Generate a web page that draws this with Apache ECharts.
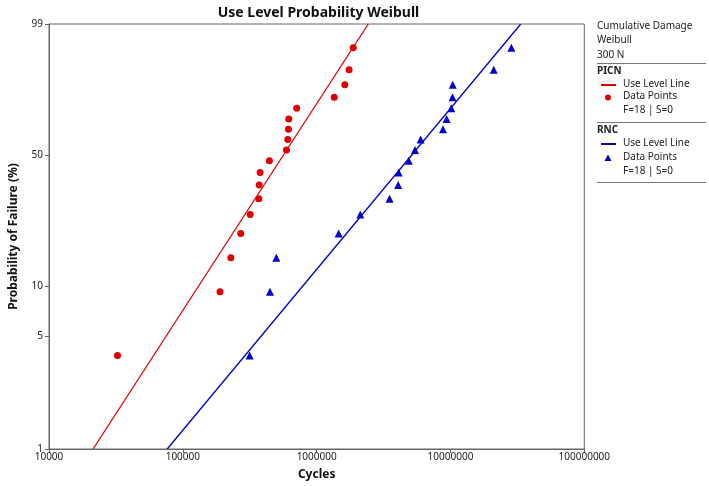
<!DOCTYPE html>
<html>
<head>
<meta charset="utf-8">
<script src="https://cdn.jsdelivr.net/npm/echarts@6/dist/echarts.min.js"></script>
<style>
  html, body { margin: 0; padding: 0; background: #fff; }
  #chart { width: 709px; height: 486px; }
</style>
</head>
<body>
<div id="chart"></div>
<script>
// median-rank probability (%) of each failure
const probPct = [3.8, 9.24, 14.67, 20.11, 25.54, 30.98, 36.41, 41.85, 47.28,
  52.72, 58.15, 63.59, 69.02, 74.46, 79.89, 85.33, 90.76, 96.2];

// cycles to failure
const picnCycles = [32500, 189600, 228500, 270900, 319000, 369800, 372000, 378000, 443600,
  595300, 608600, 615900, 619000, 709300, 1353000, 1624000, 1747000, 1876000];
const rncCycles = [315600, 448100, 499700, 1459000, 2120000, 3508000, 4068000, 4100000, 4879000,
  5431000, 5984000, 8789000, 9359000, 10136000, 10360000, 10400000, 21060000, 28500000];

// use level lines: cycles at 1% and 99%
const lineProb = [1, 99];
const picnLine = [21350, 2430000];
const rncLine = [76440, 33500000];

const yTicks = [1, 5, 10, 50, 99];

const FONT = "'Noto Sans', 'DejaVu Sans', sans-serif";
const RED = "#e00000";
const BLUE = "#0000cc";

// weibull probability scale
function wb(p) {
  return Math.log(-Math.log(1 - p / 100));
}
function unwb(t) {
  return (1 - Math.exp(-Math.exp(t))) * 100;
}

function pairs(xs, ps) {
  let out = [];
  for (let i = 0; i < xs.length; i++) {
    out.push([xs[i], wb(ps[i])]);
  }
  return out;
}

const myChart = echarts.init(document.getElementById("chart"));

// legend box on the right
const LX = 597;
const txt = (x, y, s, bold) => ({
  type: "text", left: x, top: y,
  style: { text: s, font: (bold ? "bold " : "") + "10px " + FONT, fill: "#222" },
});
const sep = (y) => ({
  type: "line", shape: { x1: LX, y1: y, x2: 706, y2: y },
  style: { stroke: "#777", lineWidth: 1 },
});
const keyLine = (y, c) => ({
  type: "line", shape: { x1: 601, y1: y, x2: 616, y2: y },
  style: { stroke: c, lineWidth: 2 },
});

const graphics = [
  txt(LX, 21, "Cumulative Damage"),
  txt(LX, 35, "Weibull"),
  txt(LX, 50, "300 N"),
  sep(63.5),
  txt(LX, 66, "PICN", true),
  keyLine(85, RED),
  txt(623, 79, "Use Level Line"),
  { type: "circle", shape: { cx: 608, cy: 97.5, r: 3 }, style: { fill: RED } },
  txt(623, 91, "Data Points"),
  txt(623, 105, "F=18 | S=0"),
  sep(122.5),
  txt(LX, 125, "RNC", true),
  keyLine(144, BLUE),
  txt(623, 138, "Use Level Line"),
  { type: "polygon", shape: { points: [[608, 154.5], [604.5, 161], [611.5, 161]] }, style: { fill: BLUE } },
  txt(623, 152, "Data Points"),
  txt(623, 166, "F=18 | S=0"),
  sep(182.5),
];

myChart.setOption({
  animation: false,
  title: {
    text: "Use Level Probability Weibull",
    left: 313.5,
    textAlign: "center",
    top: 1,
    textStyle: { fontFamily: FONT, fontSize: 14, fontWeight: "bold", color: "#111" },
  },
  grid: {
    left: 42.7,
    right: 124.7,
    top: 24,
    bottom: 34,
    show: true,
    borderColor: "#666",
    borderWidth: 1,
  },
  xAxis: {
    type: "log",
    logBase: 10,
    min: 10000,
    max: 100000000,
    name: "Cycles",
    nameLocation: "middle",
    nameGap: 20,
    nameTextStyle: { fontFamily: FONT, fontSize: 12, fontWeight: "bold", color: "#111" },
    axisLine: { onZero: false, lineStyle: { color: "#666" } },
    axisTick: { length: 4, lineStyle: { color: "#666" } },
    splitLine: { show: false },
    axisLabel: {
      margin: 3,
      fontFamily: FONT,
      fontSize: 10,
      color: "#222",
      formatter: (v) => String(Math.round(v)),
    },
  },
  yAxis: {
    type: "value",
    min: wb(1),
    max: wb(99),
    name: "Probability of Failure (%)",
    nameLocation: "middle",
    nameGap: 29,
    nameTextStyle: { fontFamily: FONT, fontSize: 12, fontWeight: "bold", color: "#111" },
    axisLine: { show: true, onZero: false, lineStyle: { color: "#666" } },
    axisTick: { show: true, length: 4, customValues: yTicks.map(wb), lineStyle: { color: "#666" } },
    splitLine: { show: false },
    axisLabel: {
      margin: 6,
      fontFamily: FONT,
      fontSize: 10,
      color: "#222",
      customValues: yTicks.map(wb),
      formatter: (v) => String(Math.round(unwb(v))),
    },
  },
  graphic: graphics,
  series: [
    {
      name: "PICN Use Level Line",
      type: "line",
      data: pairs(picnLine, lineProb),
      showSymbol: false,
      lineStyle: { color: RED, width: 1.3 },
      z: 2,
    },
    {
      name: "RNC Use Level Line",
      type: "line",
      data: pairs(rncLine, lineProb),
      showSymbol: false,
      lineStyle: { color: BLUE, width: 1.3 },
      z: 2,
    },
    {
      name: "PICN Data Points",
      type: "scatter",
      data: pairs(picnCycles, probPct),
      symbol: "circle",
      symbolSize: 7,
      itemStyle: { color: RED, opacity: 1 },
      z: 3,
    },
    {
      name: "RNC Data Points",
      type: "scatter",
      data: pairs(rncCycles, probPct),
      symbol: "triangle",
      symbolSize: 8,
      itemStyle: { color: BLUE, opacity: 1 },
      z: 3,
    },
  ],
});
</script>
</body>
</html>
